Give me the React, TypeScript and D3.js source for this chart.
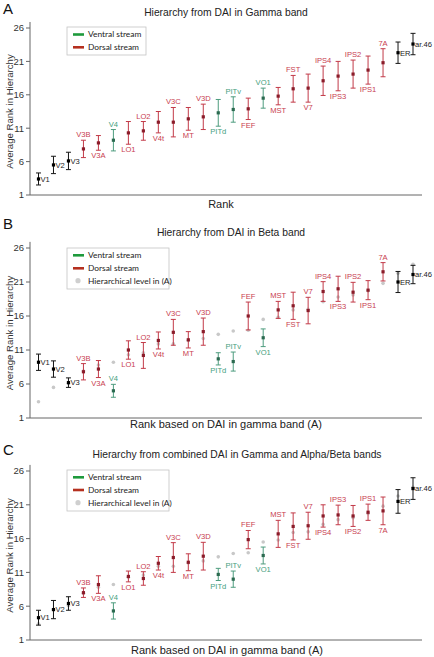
import React from "react";
import * as d3 from "d3";

const areas = ["V1","V2","V3","V3B","V3A","V4","LO1","LO2","V4t","V3C","MT","V3D","PITd","PITv","FEF","VO1","MST","FST","V7","IPS4","IPS3","IPS2","IPS1","7A","ER","ar.46"];
const streams = ["none","none","none","dorsal","dorsal","ventral","dorsal","dorsal","dorsal","dorsal","dorsal","dorsal","ventral","ventral","dorsal","ventral","dorsal","dorsal","dorsal","dorsal","dorsal","dorsal","dorsal","dorsal","none","none"];

const gammaMean = [3.4,5.5,6.1,7.9,8.8,9.2,10.3,10.6,11.9,11.9,12.4,12.7,13.3,13.8,13.9,15.5,15.8,16.9,17.0,18.1,18.8,19.1,19.7,20.8,22.3,23.6];
const gammaErr = [0.9,1.3,1.3,1.3,1.1,1.6,1.7,1.4,1.6,2.2,1.7,1.9,2.0,1.9,1.6,1.5,1.3,2.0,2.1,2.2,2.2,2.1,2.1,2.1,1.6,1.6];

const betaMean = [9.2,8.2,6.2,7.8,8.2,5.0,11.0,10.2,12.4,13.6,12.5,13.7,9.7,9.3,16.0,12.8,16.9,17.5,16.8,19.6,20.0,19.5,19.8,22.5,21.0,22.1];
const betaErr = [1.2,1.2,0.7,1.2,1.25,0.95,1.35,1.9,1.25,1.9,1.2,2.0,0.9,1.4,2.05,1.3,1.25,2.0,1.95,1.45,1.85,1.45,1.4,1.35,1.55,1.35];

const combMean = [4.3,5.5,6.4,8.0,9.2,5.3,10.4,10.1,12.35,13.2,12.5,13.4,10.7,10.0,15.85,13.5,16.7,17.8,17.9,19.35,19.5,19.35,19.9,20.1,21.5,23.4];
const combErr = [1.1,1.35,1.0,0.7,1.3,1.2,0.8,1.0,1.0,2.2,1.25,2.05,0.9,1.2,1.35,1.25,2.0,2.0,2.0,1.65,1.45,1.55,1.2,2.05,1.75,1.6];

const labelPosA = ["r","r","r","a","b","a","b","a","b","a","b","a","b","a","b","a","b","a","b","a","b","a","b","a","r","r"];
const labelPosB = ["r","r","r","a","b","a","b","a","b","a","b","a","b","a","a","b","a","b","a","a","b","a","b","a","r","r"];
const labelPosC = ["r","r","r","a","b","a","b","a","b","a","b","a","b","a","a","b","a","b","a","b","a","b","a","b","r","r"];

const yTicks = [1, 6, 11, 16, 21, 26];

const legendItems = ["Ventral stream", "Dorsal stream", "Hierarchical level in (A)"];

const FONT = "'Liberation Sans', Arial, sans-serif";
const LFONT = "Lato, 'Liberation Sans', sans-serif";

const barColor: Record<string, string> = { none: "#151515", dorsal: "#c23a48", ventral: "#4d9c7e" };
const ptColor: Record<string, string> = { none: "#000000", dorsal: "#8a1c2a", ventral: "#2b6a50" };
const lblColor: Record<string, string> = { none: "#222222", dorsal: "#c8404f", ventral: "#45a07e" };

type PanelCfg = {
  letter: string;
  letterY: number;
  title: string;
  titleX: number;
  titleY: number;
  y1: number;
  y26: number;
  xlabel: string;
  xlabelX: number;
  xlabelY: number;
  mean: number[];
  err: number[];
  pos: string[];
  grey: boolean;
  legend: { x: number; y: number; w: number; h: number; rows: number[] };
};

function Panel({ cfg }: { cfg: PanelCfg }) {
  const y = d3.scaleLinear().domain([1, 26]).range([cfg.y1, cfg.y26]);
  const x = d3.scalePoint<string>().domain(areas).range([38.5, 413]);
  const axisX = 30;
  const nRows = cfg.grey ? 3 : 2;
  return (
    <g>
      <text x={3} y={cfg.letterY} fontFamily={FONT} fontSize={15} fill="#111">{cfg.letter}</text>
      <text x={cfg.titleX} y={cfg.titleY} textAnchor="middle" fontFamily={FONT} fontSize={10.3} fill="#222">{cfg.title}</text>
      {/* axes */}
      <line x1={axisX} x2={axisX} y1={y(1)} y2={y(26.9)} stroke="#666" strokeWidth={1} />
      <line x1={axisX} x2={422} y1={y(1)} y2={y(1)} stroke="#666" strokeWidth={1} />
      {yTicks.map((t) => (
        <g key={t}>
          <line x1={axisX - 4} x2={axisX} y1={y(t)} y2={y(t)} stroke="#666" />
          <text x={axisX - 6} y={y(t)} dy="0.35em" textAnchor="end" fontFamily={FONT} fontSize={9.5} fill="#333">{t}</text>
        </g>
      ))}
      <text transform={`translate(13,${(y(1) + y(26)) / 2}) rotate(-90)`} textAnchor="middle" fontFamily={FONT} fontSize={9.6} fill="#333">Average Rank in Hierarchy</text>
      <text x={cfg.xlabelX} y={cfg.xlabelY} textAnchor="middle" fontFamily={FONT} fontSize={11} fill="#222">{cfg.xlabel}</text>
      {/* grey reference dots */}
      {cfg.grey && areas.map((a, i) => (
        <circle key={"g" + a} cx={x(a)} cy={y(gammaMean[i])} r={1.8} fill="#c8c8c8" />
      ))}
      {/* error bars */}
      {areas.map((a, i) => {
        const cx = x(a) as number;
        const s = streams[i];
        const top = y(cfg.mean[i] + cfg.err[i]);
        const bot = y(cfg.mean[i] - cfg.err[i]);
        const cy = y(cfg.mean[i]);
        const p = cfg.pos[i];
        let lx = cx, ly = 0, anchor = "middle";
        if (p === "a") { ly = top - 3; }
        else if (p === "b") { ly = bot + 8; }
        else { lx = cx + 2; ly = cy + 2.8; anchor = "start"; }
        return (
          <g key={a}>
            <line x1={cx} x2={cx} y1={top} y2={bot} stroke={barColor[s]} strokeWidth={1} />
            <line x1={cx - 2.5} x2={cx + 2.5} y1={top} y2={top} stroke={barColor[s]} strokeWidth={1} />
            <line x1={cx - 2.5} x2={cx + 2.5} y1={bot} y2={bot} stroke={barColor[s]} strokeWidth={1} />
            <rect x={cx - 1.6} y={cy - 1.6} width={3.2} height={3.2} fill={ptColor[s]} />
            <text x={lx} y={ly} textAnchor={anchor} fontFamily={FONT} fontSize={7.6} fill={lblColor[s]}>{a}</text>
          </g>
        );
      })}
      {/* legend */}
      <rect x={cfg.legend.x} y={cfg.legend.y} width={cfg.legend.w} height={cfg.legend.h} fill="#fff" stroke="#c4c4c4" strokeWidth={0.8} />
      {legendItems.slice(0, nRows).map((txt, k) => {
        const ry = cfg.legend.rows[k];
        const lx = cfg.legend.x + 6;
        return (
          <g key={txt}>
            {k === 0 && <line x1={lx} x2={lx + 11} y1={ry} y2={ry} stroke="#1e9a3c" strokeWidth={2.6} />}
            {k === 1 && <line x1={lx} x2={lx + 11} y1={ry} y2={ry} stroke="#b5301f" strokeWidth={2.6} />}
            {k === 2 && <circle cx={lx + 5} cy={ry} r={2.6} fill="#cfcfcf" />}
            <text x={lx + 15} y={ry} dy="0.35em" fontFamily={LFONT} fontSize={8.4} fill="#222">{txt}</text>
          </g>
        );
      })}
    </g>
  );
}

const panels: PanelCfg[] = [
  {
    letter: "A", letterY: 14, title: "Hierarchy from DAI in Gamma band", titleX: 226, titleY: 16,
    y1: 195, y26: 28, xlabel: "Rank", xlabelX: 221, xlabelY: 208,
    mean: gammaMean, err: gammaErr, pos: labelPosA, grey: false,
    legend: { x: 67, y: 27, w: 79, h: 28, rows: [34.5, 47.3] },
  },
  {
    letter: "B", letterY: 229, title: "Hierarchy from DAI in Beta band", titleX: 231, titleY: 236,
    y1: 418, y26: 248, xlabel: "Rank based on DAI in gamma band (A)", xlabelX: 226, xlabelY: 428,
    mean: betaMean, err: betaErr, pos: labelPosB, grey: true,
    legend: { x: 67, y: 248, w: 102, h: 41, rows: [255.3, 268.3, 280.7] },
  },
  {
    letter: "C", letterY: 455, title: "Hierarchy from combined DAI in Gamma and Alpha/Beta bands", titleX: 237, titleY: 458,
    y1: 640, y26: 471, xlabel: "Rank based on DAI in gamma band (A)", xlabelX: 227, xlabelY: 654,
    mean: combMean, err: combErr, pos: labelPosC, grey: true,
    legend: { x: 67, y: 470, w: 102, h: 41, rows: [477.3, 490, 502.7] },
  },
];

export default function App() {
  return (
    <svg width={434} height={657} viewBox="0 0 434 657" style={{ position: "absolute", left: 0, top: 0, background: "#fff" }}>
      <rect x={0} y={0} width={434} height={657} fill="#fff" />
      {panels.map((p) => (
        <Panel key={p.letter} cfg={p} />
      ))}
    </svg>
  );
}
